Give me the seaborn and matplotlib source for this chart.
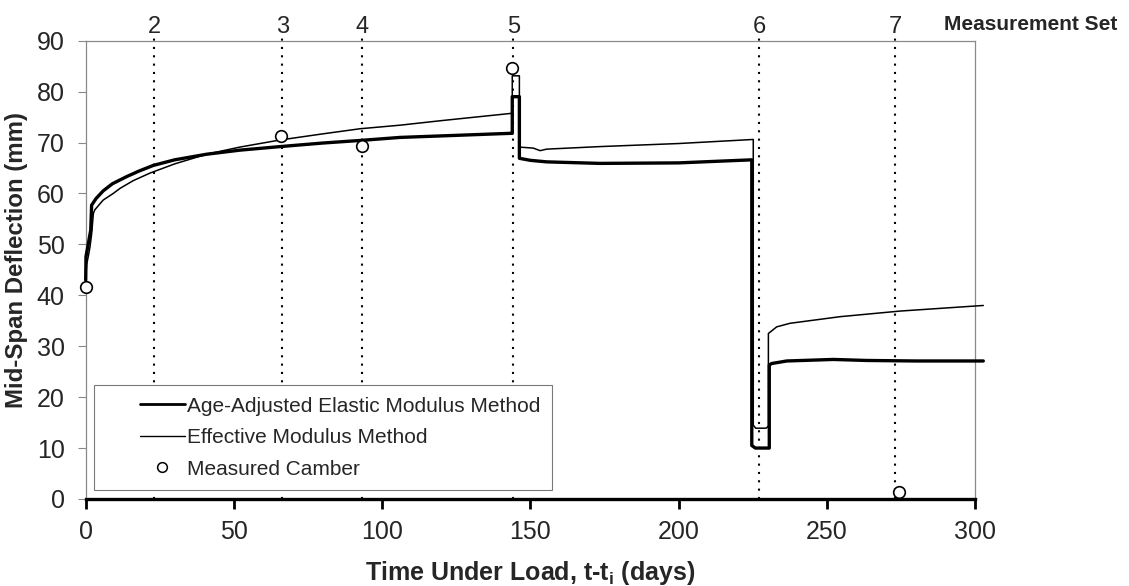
import numpy as np
import pandas as pd
import matplotlib
matplotlib.use("Agg")
import matplotlib.pyplot as plt
from matplotlib.lines import Line2D
from matplotlib.legend_handler import HandlerLine2D
import seaborn as sns

# Age-adjusted elastic modulus method (days, mm)
aaem_days = [0, 0.1, 0.9, 1.7, 2.0, 3.5, 5.9, 9.0, 13.8, 18.0, 22.8, 30.0, 40.8, 52.0,
             65.6, 80.0, 92.5, 106.0, 120.0, 143.2, 143.9, 143.9, 146.3, 146.3, 150.0,
             155.5, 173.5, 200.0, 224.7, 224.7, 225.9, 230.6, 230.6, 231.4, 236.5,
             252.2, 263.5, 280.0, 302.8]
aaem_defl = [43.0, 47.6, 50.2, 52.8, 57.7, 59.0, 60.5, 61.9, 63.3, 64.4, 65.5, 66.6, 67.7, 68.5,
             69.2, 69.9, 70.4, 71.0, 71.3, 71.8, 71.8, 79.0, 79.0, 66.9, 66.5,
             66.2, 65.9, 66.0, 66.6, 10.5, 10.0, 10.0, 26.3, 26.6, 27.1,
             27.4, 27.2, 27.1, 27.1]

# Effective modulus method (days, mm)
emm_days = [0, 0.3, 1.0, 1.45, 2.0, 2.6, 3.1, 5.9, 9.3, 11.6, 16.0, 21.7, 30.0, 40.8, 52.0,
            65.6, 80.0, 92.5, 106.0, 120.0, 143.2, 143.9, 143.9, 146.3, 146.3, 151.0,
            153.3, 155.5, 173.5, 200.0, 225.2, 225.2, 226.0, 229.5, 230.3, 230.3, 233.1,
            237.6, 254.5, 274.7, 302.8]
emm_defl = [43.0, 46.0, 48.0, 49.5, 52.0, 56.1, 56.8, 58.7, 60.0, 61.0, 62.5, 64.0, 65.8, 67.7, 69.1,
            70.5, 71.7, 72.7, 73.4, 74.3, 75.7, 75.8, 83.1, 83.1, 69.1, 68.9,
            68.4, 68.7, 69.2, 69.8, 70.6, 14.5, 13.9, 13.9, 14.3, 32.5, 33.8,
            34.5, 35.8, 36.9, 38.0]

# Measured camber
camber_days = [0, 65.8, 93.2, 143.9, 274.5]
camber_defl = [41.6, 71.2, 69.3, 84.6, 1.4]

# Measurement sets
set_labels = ["2", "3", "4", "5", "6", "7"]
set_days = [23.1, 66.3, 93.2, 144.3, 227.2, 273.0]

x_ticks = [0, 50, 100, 150, 200, 250, 300]
y_ticks = [0, 10, 20, 30, 40, 50, 60, 70, 80, 90]

sns.set_theme(style="white")
plt.rcParams["font.family"] = ["Liberation Sans", "DejaVu Sans"]
plt.rcParams["mathtext.fontset"] = "custom"
plt.rcParams["mathtext.rm"] = "Liberation Sans"
plt.rcParams["mathtext.bf"] = "Liberation Sans:bold"

fig = plt.figure(figsize=(11.29, 5.86), dpi=100)
ax = fig.add_axes([0.0759, 0.1485, 0.7877, 0.7821])

aaem = pd.DataFrame({"t": aaem_days, "d": aaem_defl})
emm = pd.DataFrame({"t": emm_days, "d": emm_defl})
cam = pd.DataFrame({"t": camber_days, "d": camber_defl})

# measurement-set reference lines
for d, lab in zip(set_days, set_labels):
    ax.axvline(d, ymin=0, ymax=1.017, color="black", lw=1.5,
               linestyle=(0, (1, 3)), clip_on=False, zorder=1)
    ax.text(d, 92.6, lab, ha="center", va="center", fontsize=17, clip_on=False)

sns.lineplot(data=emm, x="t", y="d", ax=ax, color="black", lw=1.1,
             estimator=None, sort=False, clip_on=False, zorder=3)
sns.lineplot(data=aaem, x="t", y="d", ax=ax, color="black", lw=2.4,
             estimator=None, sort=False, clip_on=False, zorder=4)
sns.scatterplot(data=cam, x="t", y="d", ax=ax, marker="o", s=70,
                facecolor="white", edgecolor="black", linewidth=1.2,
                clip_on=False, zorder=5)

ax.set_xlim(0, 300)
ax.set_ylim(0, 90)
ax.set_xticks(x_ticks)
ax.set_yticks(y_ticks)
ax.tick_params(axis="x", direction="out", length=7, width=2, color="black",
               labelsize=18, pad=8, bottom=True)
ax.tick_params(axis="y", direction="out", length=6, width=0.8, color="#888888",
               labelsize=18, pad=9, left=True)

for side in ["top", "right", "left"]:
    ax.spines[side].set_color("#8a8a8a")
    ax.spines[side].set_linewidth(0.9)
ax.spines["bottom"].set_color("black")
ax.spines["bottom"].set_linewidth(2.4)

ax.set_xlabel(r"Time Under Load, t-t$_\mathbf{i}$ (days)", fontsize=18,
              fontweight="bold", labelpad=11)
ax.set_ylabel("Mid-Span Deflection (mm)", fontsize=17.3, fontweight="bold")
ax.yaxis.set_label_coords(-0.065, 0.5215)

fig.text(0.913, 1 - 25 / 586, "Measurement Set", ha="center", va="center",
         fontsize=15, fontweight="bold")


class ShiftedHandler(HandlerLine2D):
    """Draw the legend key in the right part of the handle box."""

    def create_artists(self, legend, orig_handle, xdescent, ydescent, width,
                       height, fontsize, trans):
        shift = width * 0.43
        return super().create_artists(legend, orig_handle, xdescent - shift,
                                      ydescent, width - shift, height,
                                      fontsize, trans)


handles = [
    Line2D([], [], color="black", lw=2.0),
    Line2D([], [], color="black", lw=1.0),
    Line2D([], [], color="none", marker="o", markersize=7,
           markerfacecolor="white", markeredgecolor="black", markeredgewidth=1.1),
]
labels = ["Age-Adjusted Elastic Modulus Method", "Effective Modulus Method",
          "Measured Camber"]
leg = ax.legend(handles, labels, loc="lower left", bbox_to_anchor=(0.0093, 0.0196),
                borderaxespad=0, fontsize=15, frameon=True, fancybox=False,
                framealpha=1, edgecolor="#7a7a7a", handlelength=3.83,
                handletextpad=0.1, labelspacing=0.6, borderpad=0.55,
                handler_map={Line2D: ShiftedHandler()})
leg.get_frame().set_linewidth(0.8)
leg.set_zorder(10)

fig.savefig("out.png", dpi=100)
